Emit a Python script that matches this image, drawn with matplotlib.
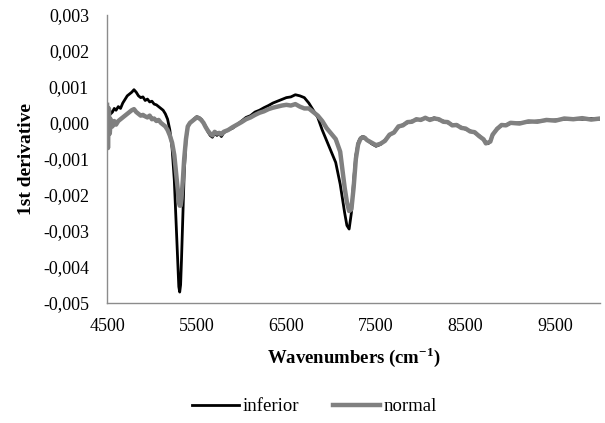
import numpy as np
import matplotlib
matplotlib.use("Agg")
import matplotlib.pyplot as plt
from matplotlib.ticker import FuncFormatter

# =========================
# Data (in units of 1e-3)
# =========================
wavenumbers = [
    4500, 4510, 4520, 4530, 4540, 4560, 4580, 4600, 4625, 4650,
    4675, 4700, 4725, 4750, 4775, 4800, 4825, 4850, 4875, 4900,
    4925, 4950, 4975, 5000, 5025, 5050, 5075, 5100, 5125, 5150,
    5175, 5200, 5225, 5250, 5270, 5290, 5300, 5310, 5320, 5330,
    5345, 5360, 5380, 5400, 5425, 5450, 5475, 5500, 5525, 5550,
    5575, 5600, 5625, 5650, 5675, 5700, 5725, 5750, 5775, 5800,
    5850, 5900, 5950, 6000, 6050, 6100, 6150, 6200, 6250, 6300,
    6350, 6400, 6450, 6500, 6550, 6600, 6650, 6700, 6750, 6800,
    6850, 6900, 6950, 7000, 7050, 7100, 7125, 7150, 7175, 7200,
    7225, 7250, 7275, 7300, 7325, 7350, 7375, 7400, 7450, 7500,
    7550, 7600, 7650, 7700, 7750, 7800, 7850, 7900, 7950, 8000,
    8050, 8100, 8150, 8200, 8250, 8300, 8350, 8400, 8450, 8500,
    8550, 8600, 8650, 8700, 8725, 8750, 8775, 8800, 8850, 8900,
    8950, 9000, 9100, 9200, 9300, 9400, 9500, 9600, 9700, 9800,
    9900, 10000,
]

inferior_e3 = [
    0.30, 0.45, 0.20, 0.35, 0.25, 0.30, 0.40, 0.35, 0.45, 0.40,
    0.55, 0.65, 0.75, 0.80, 0.85, 0.92, 0.85, 0.75, 0.70, 0.72,
    0.62, 0.66, 0.58, 0.60, 0.52, 0.50, 0.45, 0.40, 0.35, 0.25,
    0.10, -0.20, -0.70, -1.60, -2.80, -4.00, -4.55, -4.70, -4.50, -3.80,
    -2.60, -1.40, -0.50, -0.10, 0.00, 0.05, 0.12, 0.17, 0.15, 0.10,
    0.00, -0.10, -0.25, -0.35, -0.40, -0.28, -0.35, -0.30, -0.38, -0.28,
    -0.20, -0.15, -0.05, 0.05, 0.15, 0.20, 0.30, 0.35, 0.42, 0.48,
    0.55, 0.60, 0.65, 0.70, 0.72, 0.78, 0.75, 0.70, 0.55, 0.35,
    0.15, -0.20, -0.50, -0.80, -1.10, -1.70, -2.10, -2.50, -2.85, -2.95,
    -2.50, -1.60, -0.90, -0.55, -0.42, -0.38, -0.40, -0.48, -0.58, -0.65,
    -0.60, -0.48, -0.35, -0.25, -0.12, -0.05, 0.00, 0.05, 0.08, 0.10,
    0.12, 0.10, 0.14, 0.08, 0.05, 0.00, -0.05, -0.08, -0.12, -0.18,
    -0.22, -0.28, -0.35, -0.48, -0.55, -0.58, -0.50, -0.35, -0.15, -0.08,
    -0.05, -0.02, 0.00, 0.02, 0.05, 0.06, 0.08, 0.10, 0.12, 0.10,
    0.12, 0.10,
]

normal_e3 = [
    0.50, -0.70, 0.40, -0.30, 0.10, -0.10, 0.05, -0.05, 0.05, 0.10,
    0.15, 0.20, 0.25, 0.30, 0.35, 0.38, 0.30, 0.25, 0.20, 0.22,
    0.18, 0.15, 0.20, 0.10, 0.12, 0.05, 0.08, 0.00, -0.05, -0.10,
    -0.20, -0.35, -0.55, -0.90, -1.40, -1.90, -2.20, -2.30, -2.30, -2.10,
    -1.60, -1.00, -0.45, -0.10, 0.00, 0.05, 0.10, 0.15, 0.13, 0.08,
    0.00, -0.12, -0.22, -0.30, -0.35, -0.25, -0.30, -0.28, -0.32, -0.25,
    -0.20, -0.12, -0.05, 0.02, 0.10, 0.15, 0.22, 0.28, 0.32, 0.38,
    0.42, 0.45, 0.48, 0.50, 0.48, 0.52, 0.45, 0.40, 0.40, 0.30,
    0.20, 0.05, -0.15, -0.30, -0.45, -0.80, -1.30, -1.80, -2.20, -2.45,
    -2.40, -1.80, -1.00, -0.60, -0.45, -0.40, -0.42, -0.48, -0.55, -0.62,
    -0.58, -0.50, -0.33, -0.27, -0.10, -0.07, 0.02, 0.03, 0.10, 0.08,
    0.14, 0.08, 0.12, 0.10, 0.03, 0.02, -0.07, -0.06, -0.14, -0.16,
    -0.24, -0.26, -0.37, -0.46, -0.57, -0.55, -0.52, -0.33, -0.17, -0.06,
    -0.07, 0.00, -0.02, 0.04, 0.03, 0.08, 0.06, 0.12, 0.10, 0.13,
    0.09, 0.12,
]

series_labels = ["inferior", "normal"]
x_ticks = [4500, 5500, 6500, 7500, 8500, 9500]
y_ticks = [-0.005, -0.004, -0.003, -0.002, -0.001, 0.0, 0.001, 0.002, 0.003]

# =========================
# Plot
# =========================
plt.rcParams["font.family"] = ["Liberation Serif", "DejaVu Serif"]
plt.rcParams["mathtext.fontset"] = "custom"
plt.rcParams["mathtext.rm"] = "Liberation Serif"
plt.rcParams["mathtext.bf"] = "Liberation Serif:bold"

x = np.array(wavenumbers)
inferior = np.array(inferior_e3) * 1e-3
normal = np.array(normal_e3) * 1e-3

fig = plt.figure(figsize=(6.05, 4.23), dpi=100)
ax = fig.add_axes([0.177, 0.284, 0.815, 0.681])

ax.plot(x, inferior, color="black", lw=2.0, label=series_labels[0])
ax.plot(x, normal, color="#808080", lw=3.2, label=series_labels[1])

ax.set_xlim(4500, 10000)
ax.set_ylim(-0.005, 0.003)
ax.set_xticks(x_ticks)
ax.set_yticks(y_ticks)


def comma_fmt(v, pos):
    s = f"{v:.3f}".replace(".", ",")
    if s.startswith("-0,000"):
        s = "0,000"
    return s


ax.yaxis.set_major_formatter(FuncFormatter(comma_fmt))
ax.tick_params(axis="y", length=0, labelsize=13, pad=13)
ax.tick_params(axis="x", length=0, labelsize=13, pad=11)

for side in ["top", "right"]:
    ax.spines[side].set_visible(False)
for side in ["left", "bottom"]:
    ax.spines[side].set_color("#8c8c8c")
    ax.spines[side].set_linewidth(1.0)

ax.set_xlabel("Wavenumbers (cm$^{\\mathbf{-1}}$)", fontsize=13.5, fontweight="bold", labelpad=7)
ax.set_ylabel("1st derivative", fontsize=14, fontweight="bold", labelpad=6)

fig.legend(loc="center", bbox_to_anchor=(0.52, 0.038), ncol=2, frameon=False,
           fontsize=13.5, handlelength=2.5, handletextpad=0.2, columnspacing=1.8)

fig.savefig("out.png", dpi=100)
plt.close(fig)
